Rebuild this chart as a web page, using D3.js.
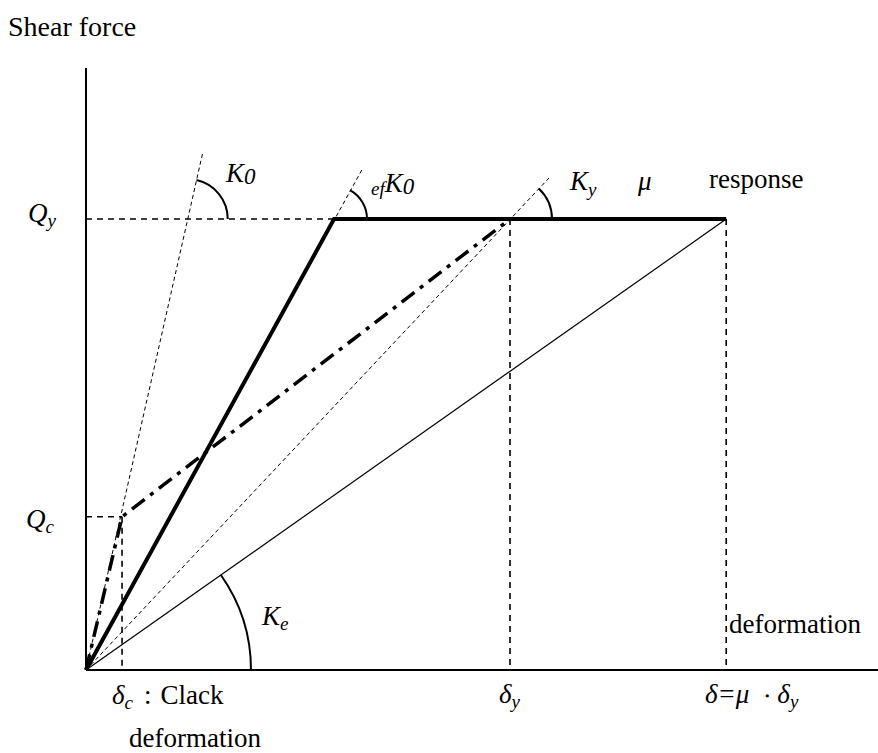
<!DOCTYPE html>
<html>
<head>
<meta charset="utf-8">
<script src="https://cdn.jsdelivr.net/npm/d3@7"></script>
<style>
  body { margin: 0; background: #fff; }
  text { font-family: "Liberation Serif", "Times New Roman", serif; fill: #000; }
</style>
</head>
<body>
<div id="chart"></div>
<script>
// 讀自圖片的數值 (變形量單位任意, 剪力以 Qy = 1 為準)
const axisMaxX = 18.68;
const axisMaxY = 1.335;
const skeletonPts = [[0, 0], [5.85, 1], [15.1, 1]];      // 粗實線
const trilinearPts = [[0, 0], [0.85, 0.34], [10, 1]];   // 粗一點鏈線
const kePts = [[0, 0], [15.1, 1]];                       // 細實線 Ke
const stiffNames = ["K0", "efK0", "Ky"];
const stiffEnds = [[2.76, 1.15], [6.53, 1.113], [10.92, 1.091]]; // 細虛線端點
const qy = 1, qc = 0.34;
const deltaC = 0.85, deltaY = 10, deltaMu = 15.1;
const kinkX = 5.85;

const W = 878, H = 753;
const svg = d3.select("#chart").append("svg")
    .attr("width", W).attr("height", H);

// 比例尺
const x = d3.scaleLinear().domain([0, axisMaxX]).range([86, 878]);
const y = d3.scaleLinear().domain([0, axisMaxY]).range([670, 68]);
const line = d3.line().x(d => x(d[0])).y(d => y(d[1]));

// 軸
svg.append("line")
    .attr("x1", x(0)).attr("y1", y(0)).attr("x2", x(0)).attr("y2", y(axisMaxY))
    .attr("stroke", "#000").attr("stroke-width", 2);
svg.append("line")
    .attr("x1", x(0)).attr("y1", y(0)).attr("x2", x(axisMaxX)).attr("y2", y(0))
    .attr("stroke", "#000").attr("stroke-width", 2);

// 輔助虛線
const guides = [
    [[0, qy], [kinkX, qy]],
    [[0, qc], [deltaC, qc]],
    [[deltaC, qc], [deltaC, 0]],
    [[deltaY, qy], [deltaY, 0]],
    [[deltaMu, qy], [deltaMu, 0]]
];
svg.selectAll(".guide")
    .data(guides)
    .enter()
    .append("path")
    .attr("class", "guide")
    .attr("d", line)
    .attr("fill", "none")
    .attr("stroke", "#000")
    .attr("stroke-width", 1.6)
    .attr("stroke-dasharray", "6,5");

// 剛性線 (細虛線)
svg.selectAll(".stiff")
    .data(stiffEnds)
    .enter()
    .append("path")
    .attr("class", "stiff")
    .attr("d", d => line([[0, 0], d]))
    .attr("fill", "none")
    .attr("stroke", "#000")
    .attr("stroke-width", 1)
    .attr("stroke-dasharray", "4,3");

// Ke 細實線
svg.append("path")
    .attr("d", line(kePts))
    .attr("fill", "none")
    .attr("stroke", "#000")
    .attr("stroke-width", 1.2);

// 一點鏈線
svg.append("path")
    .attr("d", line(trilinearPts))
    .attr("fill", "none")
    .attr("stroke", "#000")
    .attr("stroke-width", 3.5)
    .attr("stroke-dasharray", "16,7,4,7");

// 粗實線
svg.append("path")
    .attr("d", line(skeletonPts))
    .attr("fill", "none")
    .attr("stroke", "#000")
    .attr("stroke-width", 4)
    .attr("stroke-linejoin", "miter");

// 角度弧
function angleOf(p) {
    return Math.atan2(y(p[1]) - y(0), x(p[0]) - x(0));
}
const arcs = [
    {c: [stiffEnds[0][0] * qy / stiffEnds[0][1], qy], dir: stiffEnds[0], r: 40},
    {c: [kinkX, qy], dir: stiffEnds[1], r: 33},
    {c: [deltaY, qy], dir: stiffEnds[2], r: 42},
    {c: [0, 0], dir: kePts[1], r: 165}
];
svg.selectAll(".arc")
    .data(arcs)
    .enter()
    .append("path")
    .attr("class", "arc")
    .attr("d", d => {
        const cx = x(d.c[0]), cy = y(d.c[1]);
        const a = angleOf(d.dir);
        const p = d3.path();
        p.moveTo(cx + d.r * Math.cos(a), cy + d.r * Math.sin(a));
        p.arc(cx, cy, d.r, a, 0);
        return p.toString();
    })
    .attr("fill", "none")
    .attr("stroke", "#000")
    .attr("stroke-width", 2);

// 文字
const FS = 27, SUB = 19;
function label(px, py, parts) {
    const t = svg.append("text").attr("x", px).attr("y", py).style("font-size", FS + "px");
    let shift = 0;
    parts.forEach(p => {
        const s = t.append("tspan").text(p.t);
        if (p.i) s.style("font-style", "italic");
        const target = p.sub ? p.sub : 0;
        if (target !== shift) { s.attr("dy", target - shift); shift = target; }
        if (p.dx) s.attr("dx", p.dx);
        if (p.size) s.style("font-size", p.size + "px");
    });
    return t;
}

label(8, 36, [{t: "Shear force"}]).style("font-size", "28px");
label(28, 222, [{t: "Q", i: 1}, {t: "y", i: 1, sub: 5, size: SUB}]);
label(26, 528, [{t: "Q", i: 1}, {t: "c", i: 1, sub: 5, size: SUB}]);
label(226, 182, [{t: "K", i: 1}, {t: "0", i: 1, sub: 2, size: 23}]);
label(371, 192, [{t: "ef", i: 1, sub: 3, size: SUB}, {t: "K", i: 1}, {t: "0", i: 1, sub: 2, size: 23}]);
label(570, 190, [{t: "K", i: 1}, {t: "y", i: 1, sub: 6, size: SUB}]);
label(638, 190, [{t: "μ", i: 1}]);
label(709, 188, [{t: "response"}]);
label(262, 625, [{t: "K", i: 1}, {t: "e", i: 1, sub: 5, size: SUB}]);
label(729, 633, [{t: "deformation"}]);
label(112, 704, [{t: "δ", i: 1}, {t: "c", i: 1, sub: 5, size: SUB}, {t: ":", dx: 11}, {t: "Clack", dx: 9}]);
label(129, 747, [{t: "deformation"}]);
label(499, 703, [{t: "δ", i: 1}, {t: "y", i: 1, sub: 5, size: SUB}]);
label(705, 703, [{t: "δ=μ", i: 1}, {t: "・", size: 20, dx: 8}, {t: "δ", i: 1}, {t: "y", i: 1, sub: 5, size: SUB}]);
</script>
</body>
</html>
